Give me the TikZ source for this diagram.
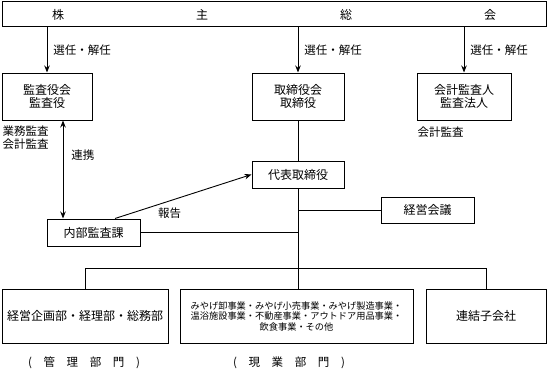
\documentclass[tikz,border=0pt]{standalone}
\usepackage{fontspec}
\setmainfont{Noto Sans CJK JP}
\usetikzlibrary{arrows.meta,positioning,calc}

\begin{document}
\begin{tikzpicture}[
  x=1pt, y=-1pt,
  box/.style={draw, line width=1pt, align=center, inner sep=1pt,
    font=\fontsize{12}{12.5}\selectfont},
  smallbox/.style={draw, line width=1pt, align=center, inner sep=1pt,
    font=\fontsize{9.2}{10.5}\selectfont},
  lbl/.style={font=\fontsize{11.5}{13}\selectfont, inner sep=1pt, align=left},
  link/.style={line width=0.9pt},
  arr/.style={-{Stealth[length=7pt, width=5.5pt]}, line width=0.9pt},
  dblarr/.style={{Stealth[length=7pt, width=5.5pt]}-{Stealth[length=7pt, width=5.5pt]}, line width=0.9pt}
]
  \useasboundingbox (0,0) rectangle (548,369);

  \node[box, minimum width=544, minimum height=25] (meeting) at (274,14.5)
    {\makebox[444pt]{株\hfill 主\hfill 総\hfill 会}};

  \node[box, minimum width=90, minimum height=47] (auditors) at (47,96.5) {監査役会\\監査役};
  \node[box, minimum width=92, minimum height=47] (board) at (298,96.5) {取締役会\\取締役};
  \node[box, minimum width=94, minimum height=47] (accountant) at (464,96.5) {会計監査人\\監査法人};

  \node[box, minimum width=92, minimum height=27] (ceo) at (298,174.5) {代表取締役};
  \node[box, minimum width=93, minimum height=26] (mgmt) at (427.5,210) {経営会議};
  \node[box, minimum width=93, minimum height=27] (internal) at (93.5,232.5) {内部監査課};

  \node[box, minimum width=166, minimum height=54] (admin) at (85,316) {経営企画部・経理部・総務部};
  \node[smallbox, minimum width=233, minimum height=54] (ops) at (296.5,316)
    {みやげ卸事業・みやげ小売事業・みやげ製造事業・\\
     温浴施設事業・不動産事業・アウトドア用品事業・\\
     飲食事業・その他};
  \node[box, minimum width=120, minimum height=54] (subs) at (486,316) {連結子会社};

  \node[lbl, anchor=north west] (auditnote) at ([yshift=-4pt]auditors.south west) {業務監査\\会計監査};
  \node[lbl, anchor=north west] (accnote) at ([yshift=-5pt]accountant.south west) {会計監査};

  \node[lbl] (admindiv) at (84,363) {\makebox[112pt]{(\hfill 管\hfill 理\hfill 部\hfill 門\hfill )}};
  \node[lbl] (opsdiv) at (289,363) {\makebox[112pt]{(\hfill 現\hfill 業\hfill 部\hfill 門\hfill )}};

  \draw[arr] (meeting.south -| auditors) -- node[lbl, right=5pt] {選任・解任} (auditors.north);
  \draw[arr] (meeting.south -| board) -- node[lbl, right=5pt] {選任・解任} (board.north);
  \draw[arr] (meeting.south -| accountant) -- node[lbl, right=5pt] {選任・解任} (accountant.north);

  \draw[dblarr] ([xshift=16pt]auditors.south) -- node[lbl, right=7pt, pos=0.35] {連携}
    ([xshift=16pt]auditors.south |- internal.north);
  \draw[arr] ([xshift=21.5pt]internal.north) -- node[lbl, below=5pt, pos=0.4] {報告} (ceo.west);

  \draw[link] (board.south) -- (ceo.north);
  \draw[link] (ceo.south) -- (ceo.south |- ops.north);
  \draw[link] (mgmt.west) -- (mgmt.west -| ceo.south);
  \draw[link] (internal.east) -- (internal.east -| ceo.south);

  \coordinate (hub) at (298,268);
  \draw[link] (admin.north) -- (admin.north |- hub) -- (subs.north |- hub) -- (subs.north);
\end{tikzpicture}
\end{document}
